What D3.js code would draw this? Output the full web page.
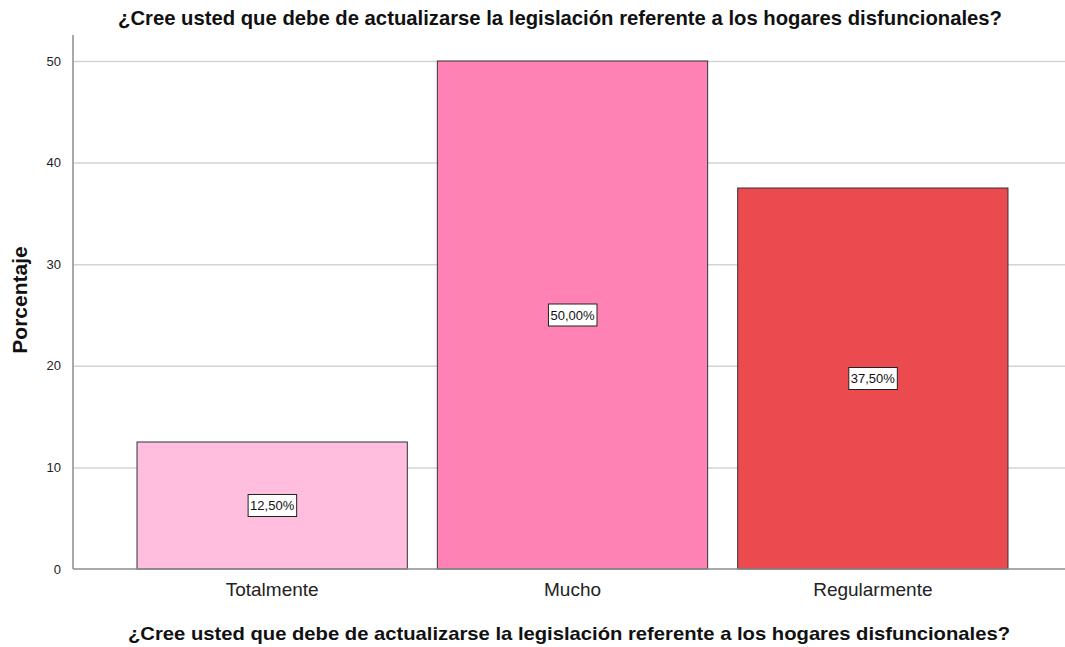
<!DOCTYPE html>
<html>
  <head>
    <meta charset="utf-8">
    <title>Legislación hogares disfuncionales</title>
    <script src="https://d3js.org/d3.v7.min.js"></script>
    <style>
      body { margin: 0; background: #fff; }
      svg { display: block; font-family: "Liberation Sans", Arial, sans-serif; }
      .grid line { stroke: #d3d3d3; stroke-width: 1.5px; }
      .grid path { display: none; }
      .yAxis path, .yAxis line { display: none; }
      .yAxis text { font-size: 13px; fill: #222; }
      .xAxis path, .xAxis line { display: none; }
      .xAxis text { font-size: 19px; fill: #222; }
      .bar { stroke: #333; stroke-width: 1px; }
      .valBox { fill: #fff; stroke: #222; stroke-width: 1px; }
      .valText { font-size: 13px; fill: #111; }
      .title { font-size: 19px; font-weight: bold; fill: #111; }
    </style>
  </head>
  <body>
    <svg id="chart" width="1065" height="647"></svg>
    <script>
      // data
      categories = ["Totalmente", "Mucho", "Regularmente"];
      percents = [12.5, 50, 37.5];
      labels = ["12,50%", "50,00%", "37,50%"];
      colors = ["#ffbedd", "#ff82b4", "#eb4b4f"];
      yTicks = [0, 10, 20, 30, 40, 50];
      question = "¿Cree usted que debe de actualizarse la legislación referente a los hogares disfuncionales?";

      chart = d3.select("#chart");
      margin = { top: 35, right: 0, bottom: 78, left: 73 };
      width = 1065;
      height = 647;

      x = d3.scaleBand()
        .domain(categories)
        .range([122, 1023])
        .paddingInner(0.1)
        .paddingOuter(0.05);
      y = d3.scaleLinear()
        .domain([0, 50])
        .range([569, 61]);

      // gridlines
      chart.append("g")
        .attr("class", "grid")
        .attr("transform", "translate(" + margin.left + ",0)")
        .call(d3.axisLeft(y).tickValues(yTicks.slice(1)).tickSize(-(width - margin.left)).tickFormat(""));

      // y axis labels
      chart.append("g")
        .attr("class", "yAxis")
        .attr("transform", "translate(" + margin.left + ",0)")
        .call(d3.axisLeft(y).tickValues(yTicks).tickSize(0).tickPadding(12));

      // bars
      bars = chart.append("g");
      bars.selectAll("rect")
        .data(categories)
        .enter().append("rect")
          .attr("class", "bar")
          .attr("x", function(d) { return x(d); })
          .attr("width", x.bandwidth())
          .attr("y", function(d, i) { return y(percents[i]); })
          .attr("height", function(d, i) { return y(0) - y(percents[i]); })
          .attr("fill", function(d, i) { return colors[i]; });

      // axis lines
      chart.append("line")
        .attr("x1", margin.left).attr("x2", margin.left)
        .attr("y1", margin.top).attr("y2", y(0))
        .attr("stroke", "#8c8c8c").attr("stroke-width", 1.5);
      chart.append("line")
        .attr("x1", margin.left).attr("x2", width)
        .attr("y1", y(0)).attr("y2", y(0))
        .attr("stroke", "#8c8c8c").attr("stroke-width", 1.5);

      // value labels
      vals = chart.append("g");
      categories.forEach(function(c, i) {
        cx = x(c) + x.bandwidth() / 2;
        cy = y(percents[i] / 2);
        g = vals.append("g");
        t = g.append("text")
          .attr("class", "valText")
          .attr("x", cx)
          .attr("y", cy)
          .attr("text-anchor", "middle")
          .attr("dy", "0.35em")
          .text(labels[i]);
        bb = t.node().getBBox();
        g.insert("rect", "text")
          .attr("class", "valBox")
          .attr("x", bb.x - 2)
          .attr("y", cy - 11)
          .attr("width", bb.width + 4)
          .attr("height", 22);
      });

      // x axis labels
      chart.append("g")
        .attr("class", "xAxis")
        .attr("transform", "translate(0," + y(0) + ")")
        .call(d3.axisBottom(x).tickSize(0).tickPadding(14));

      // titles
      chart.append("text")
        .attr("class", "title")
        .style("font-size", "21px")
        .attr("x", 118)
        .attr("y", 25)
        .attr("textLength", 884)
        .attr("lengthAdjust", "spacingAndGlyphs")
        .text(question);
      chart.append("text")
        .attr("class", "title")
        .attr("x", 128)
        .attr("y", 640)
        .attr("textLength", 882)
        .attr("lengthAdjust", "spacingAndGlyphs")
        .text(question);
      chart.append("text")
        .attr("class", "title")
        .style("font-size", "21px")
        .attr("transform", "translate(27," + 300 + ") rotate(-90)")
        .attr("text-anchor", "middle")
        .text("Porcentaje");
    </script>
  </body>
</html>
